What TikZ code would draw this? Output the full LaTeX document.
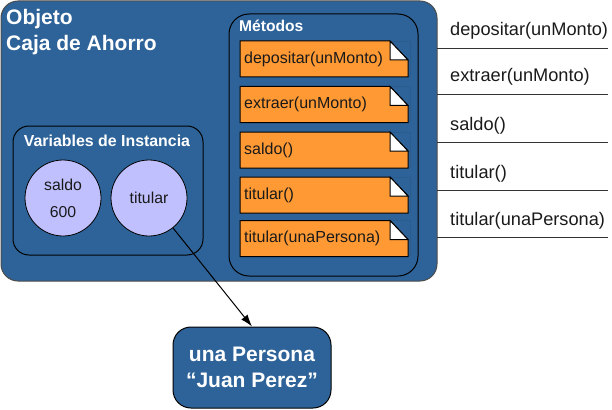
\documentclass[tikz,border=0pt]{standalone}
\usepackage{fontspec}
\setmainfont{Liberation Sans}
\usetikzlibrary{positioning,arrows.meta}
\definecolor{azul}{HTML}{2E6399}
\definecolor{naranja}{HTML}{FF9933}
\definecolor{lila}{HTML}{C0C0FF}
\definecolor{sombra}{HTML}{2A5C8E}
\definecolor{texto}{HTML}{1A1A1A}
\tikzset{
  caja/.style={draw=black, fill=azul, line width=1pt, inner sep=0pt},
  titulo/.style={text=white, inner sep=0pt},
  nota/.style={draw=black, fill=naranja, line width=1pt},
  pliegue/.style={draw=black, fill=white, line width=1pt},
  metodo/.style={anchor=west, text=texto, font=\fontsize{16}{18}\selectfont, inner sep=0pt},
  atributo/.style={circle, draw=black, fill=lila, line width=0.8pt, minimum size=76pt,
    inner sep=0pt, text=texto, font=\fontsize{15.8}{18}\selectfont, align=center},
  mensaje/.style={anchor=base west, text=texto, font=\fontsize{18.2}{20}\selectfont, inner sep=0pt},
  linea/.style={draw=black!80, line width=0.8pt},
  flecha/.style={-{Latex[length=12pt,width=8pt]}, line width=1pt}
}
\begin{document}
\begin{tikzpicture}[x=1pt,y=-1pt]
\useasboundingbox (0,0) rectangle (612,409);

% el objeto
\node[caja, draw=black!70, rounded corners=17pt, minimum width=436pt, minimum height=280pt] (objeto) at (219,141) {};
\node[titulo, anchor=base west, font=\bfseries\fontsize{21}{24}\selectfont] (obj1) at (6,25) {Objeto};
\node[titulo, anchor=base west, font=\bfseries\fontsize{21}{24}\selectfont] (obj2) at (6,51) {Caja de Ahorro};

% metodos
\node[caja, rounded corners=20pt, minimum width=189pt, minimum height=262pt] (metodos) at (323.5,145) {};
\node[titulo, anchor=base west, font=\bfseries\fontsize{15.6}{18}\selectfont] (metodos-t) at (239,32) {Métodos};
\foreach \i/\y/\txt in {1/59/depositar(unMonto), 2/104.5/extraer(unMonto), 3/150/saldo(),
                        4/195/titular(), 5/238.5/titular(unaPersona)}{
  \draw[sombra, line width=0.6pt] (242,\y-18) rectangle (410,\y+17);
  \draw[nota] (240,\y-18) -- (390,\y-18) -- (408,\y+1) -- (408,\y+18) -- (240,\y+18) -- cycle;
  \draw[pliegue] (390,\y-18) -- (408,\y+1) -- (390,\y+1) -- cycle;
  \node[metodo] (m\i) at (244,\y) {\txt};
}

% variables de instancia
\node[caja, rounded corners=16pt, minimum width=190pt, minimum height=129pt] (variables) at (108,190.5) {};
\node[titulo, anchor=base, font=\bfseries\fontsize{15.9}{18}\selectfont] (variables-t) at (107,146) {Variables de Instancia};
\node[atributo] (saldo) at (63,198) {saldo\\[9pt]600};
\node[atributo] (titular) at (149,198) {titular};

% la persona
\node[caja, rounded corners=18pt, minimum width=158pt, minimum height=81pt, text=white,
      font=\bfseries\fontsize{21}{26}\selectfont, align=center] (persona) at (252,367.5) {una Persona\\“Juan Perez”};
\draw[flecha] (titular) -- (persona.north);

% mensajes
\foreach \i/\y/\txt in {1/48/depositar(unMonto), 2/94/extraer(unMonto), 3/142/saldo(),
                        4/190/titular(), 5/237/titular(unaPersona)}{
  \node[mensaje] (msg\i) at (450,\y-12) {\txt};
  \draw[linea] (437,\y) -- (608,\y);
}
\end{tikzpicture}
\end{document}
